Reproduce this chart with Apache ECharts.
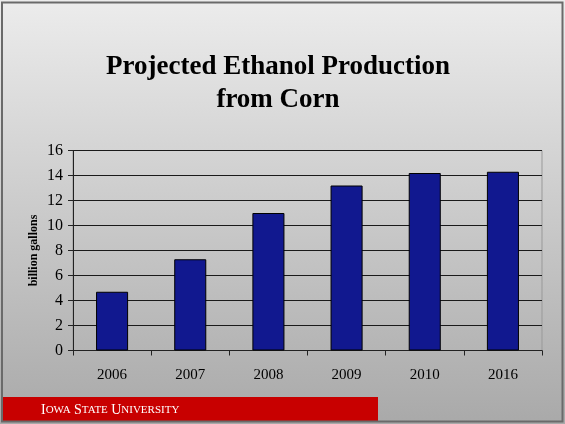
<!DOCTYPE html>
<html>
<head>
<meta charset="utf-8">
<script src="https://cdn.jsdelivr.net/npm/echarts@6/dist/echarts.min.js"></script>
<style>
  html, body { margin: 0; padding: 0; }
  #chart { width: 565px; height: 424px; }
</style>
</head>
<body>
<div id="chart"></div>
<script>
// 数据
var years = ['2006', '2007', '2008', '2009', '2010', '2016']
var production = [4.7, 7.3, 11.0, 13.2, 14.2, 14.3]
var yTicks = [0, 2, 4, 6, 8, 10, 12, 14, 16]

var serif = '"Liberation Serif", "DejaVu Serif", serif'

var chart = echarts.init(document.getElementById('chart'))
var options = {
  animation: false,
  backgroundColor: new echarts.graphic.LinearGradient(0, 0, 0, 1, [
    { offset: 0, color: '#ececec' },
    { offset: 1, color: '#a9a9a9' }
  ]),
  title: {
    text: 'Projected Ethanol Production\nfrom Corn',
    left: 273,
    textAlign: 'center',
    top: 46,
    textStyle: {
      fontFamily: serif,
      fontWeight: 'bold',
      fontSize: 27,
      lineHeight: 33,
      color: '#000'
    }
  },
  grid: {
    left: 73,
    right: 23,
    top: 150.5,
    bottom: 73.5,
    show: true,
    borderColor: '#999',
    borderWidth: 1,
    backgroundColor: 'transparent'
  },
  xAxis: {
    type: 'category',
    data: years,
    axisLine: { lineStyle: { color: '#222', width: 1 } },
    axisTick: { show: true, length: 5, lineStyle: { color: '#222' } },
    axisLabel: {
      margin: 17,
      fontFamily: serif,
      fontSize: 15,
      color: '#000'
    }
  },
  yAxis: {
    type: 'value',
    min: yTicks[0],
    max: yTicks[yTicks.length - 1],
    interval: 2,
    name: 'billion gallons',
    nameLocation: 'middle',
    nameGap: 33,
    nameMoveOverlap: false,
    nameTextStyle: {
      fontFamily: serif,
      fontWeight: 'bold',
      fontSize: 12,
      color: '#000'
    },
    axisLine: { show: true, lineStyle: { color: '#222' } },
    axisTick: { show: true, length: 5, lineStyle: { color: '#222' } },
    splitLine: { lineStyle: { color: '#1a1a1a', width: 1 } },
    axisLabel: {
      margin: 10,
      fontFamily: serif,
      fontSize: 16,
      color: '#000'
    }
  },
  series: [
    {
      type: 'bar',
      data: production,
      barWidth: '41%',
      itemStyle: {
        color: '#11188f',
        borderColor: '#000',
        borderWidth: 1
      }
    }
  ],
  graphic: [
    {
      type: 'rect',
      shape: { x: 2, y: 2.5, width: 560.5, height: 419 },
      style: { fill: null, stroke: '#6a6a6a', lineWidth: 2 },
      z: 100
    },
    {
      type: 'rect',
      shape: { x: 3, y: 397, width: 375, height: 24 },
      style: { fill: '#c80000' },
      z: 50
    },
    {
      type: 'text',
      left: 41,
      top: 403,
      z: 60,
      style: {
        text: '{b|I}{s|OWA} {b|S}{s|TATE} {b|U}{s|NIVERSITY}',
        rich: {
          b: { fontFamily: serif, fontSize: 14, fill: '#fff' },
          s: { fontFamily: serif, fontSize: 11, fill: '#fff' }
        }
      }
    }
  ]
}
chart.setOption(options)
</script>
</body>
</html>
